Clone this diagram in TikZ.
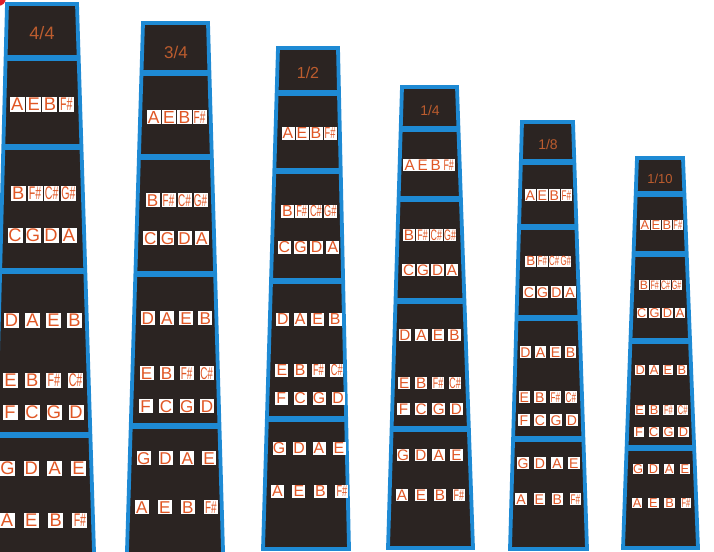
\documentclass[tikz,border=0pt]{standalone}
\usepackage{fontspec}
\setmainfont{Liberation Sans}
\usetikzlibrary{calc}
\definecolor{boardc}{RGB}{43,36,34}
\definecolor{bluec}{RGB}{30,138,212}
\definecolor{notec}{RGB}{224,86,36}
\definecolor{labelc}{RGB}{188,92,46}
\definecolor{redc}{RGB}{220,30,40}
\newcommand\shp[1]{\scalebox{0.58}[1]{#1\#}}
\tikzset{
  boardline/.style={draw=bluec, line width=3.8pt, line join=miter},
  divline/.style={draw=bluec, line width=5.5pt},
  notebox/.style={fill=white, inner sep=0pt, text=notec, anchor=center},
  lbl/.style={text=labelc, inner sep=0pt, anchor=center}
}
\newcommand\fboard[8]{%
  \coordinate (#1-TL) at (#2,#4);
  \coordinate (#1-TR) at (#3,#4);
  \coordinate (#1-BL) at (#5,#7);
  \coordinate (#1-BR) at (#6,#7);
  \fill[boardc] (#1-TL) -- (#1-TR) -- (#1-BR) -- (#1-BL) -- cycle;
  \foreach \dv in {#8} {
    \pgfmathsetmacro\dt{(\dv-#4)/(#7-#4)}
    \draw[divline] ($(#1-TL)!\dt!(#1-BL)$) -- ($(#1-TR)!\dt!(#1-BR)$);
  }
  \draw[boardline] (#1-TL) -- (#1-TR) -- (#1-BR) -- (#1-BL) -- cycle;
}
\newcommand\noterow[9]{%
  \pgfmathsetmacro\nfsz{#5*1.22}%
  \pgfmathsetmacro\nth{0.72*#5*1.22}%
  \foreach \nn [count=\i] in {#6,#7,#8,#9} {
    \node[notebox, minimum width=#5pt, minimum height=#5pt, text height=\nth pt, text depth=0pt,
          font=\fontsize{\nfsz pt}{\nfsz pt}\selectfont] (#1-\i) at ({#2+(\i-2.5)*#4},#3) {\nn};
  }
}
\begin{document}
\begin{tikzpicture}[x=1pt,y=-1pt]
\useasboundingbox (0,0) rectangle (714,551);
\clip (0,0) rectangle (714,551);
\fill[redc] (-2,-2) circle (8);

% Board 1 : 4/4
\fboard{b1}{7}{77}{4}{-8.3}{95.5}{600}{58,147,271,435}
\node[lbl, font=\fontsize{18pt}{18pt}\selectfont] (b1-lab) at (42,33) {4/4};
\noterow{b1r1}{41.8}{104}{16.3}{15}{A}{E}{B}{\shp{F}}
\noterow{b1r2}{43.4}{193}{16.7}{15}{B}{\shp{F}}{\shp{C}}{\shp{G}}
\noterow{b1r3}{42}{235}{18}{15}{C}{G}{D}{A}
\noterow{b1r4}{43}{320}{21}{15}{D}{A}{E}{B}
\noterow{b1r5}{43}{380}{21.7}{15}{E}{B}{\shp{F}}{\shp{C}}
\noterow{b1r6}{43}{412}{22}{15}{F}{C}{G}{D}
\noterow{b1r7}{43}{468}{23.7}{15}{G}{D}{A}{E}
\noterow{b1r8}{43.5}{520}{24.3}{15}{A}{E}{B}{\shp{F}}

% Board 2 : 3/4
\fboard{b2}{143}{208}{23}{125.5}{224.4}{600}{73,157,274,426}
\node[lbl, font=\fontsize{17pt}{17pt}\selectfont] (b2-lab) at (176,52) {3/4};
\noterow{b2r1}{176.7}{117}{15.3}{14.3}{A}{E}{B}{\shp{F}}
\noterow{b2r2}{176.5}{200}{16}{14}{B}{\shp{F}}{\shp{C}}{\shp{G}}
\noterow{b2r3}{176}{238}{17.2}{14}{C}{G}{D}{A}
\noterow{b2r4}{176.5}{318}{19.2}{14}{D}{A}{E}{B}
\noterow{b2r5}{176.6}{373}{20}{14}{E}{B}{\shp{F}}{\shp{C}}
\noterow{b2r6}{176.4}{406}{20.5}{14}{F}{C}{G}{D}
\noterow{b2r7}{176.4}{458}{21.7}{14}{G}{D}{A}{E}
\noterow{b2r8}{176.4}{507}{23}{14}{A}{E}{B}{\shp{F}}

% Board 3 : 1/2
\fboard{b3}{278}{338}{48}{263}{349}{549}{93,171,281,419}
\node[lbl, font=\fontsize{16pt}{16pt}\selectfont] (b3-lab) at (308,73) {1/2};
\noterow{b3r1}{309}{133}{14}{13}{A}{E}{B}{\shp{F}}
\noterow{b3r2}{308.8}{211}{14.3}{13}{B}{\shp{F}}{\shp{C}}{\shp{G}}
\noterow{b3r3}{308.6}{247}{16.2}{13}{C}{G}{D}{A}
\noterow{b3r4}{309}{319}{17.5}{13}{D}{A}{E}{B}
\noterow{b3r5}{309.3}{370}{18.3}{13}{E}{B}{\shp{F}}{\shp{C}}
\noterow{b3r6}{309.6}{398}{19}{13}{F}{C}{G}{D}
\noterow{b3r7}{309}{448}{20}{13}{G}{D}{A}{E}
\noterow{b3r8}{309.7}{491}{21.5}{13}{A}{E}{B}{\shp{F}}

% Board 4 : 1/4
\fboard{b4}{402}{457}{87}{388}{473}{548}{129,199,301,429}
\node[lbl, font=\fontsize{14pt}{14pt}\selectfont] (b4-lab) at (430,110) {1/4};
\noterow{b4r1}{429.2}{165}{13}{12.5}{A}{E}{B}{\shp{F}}
\noterow{b4r2}{429.5}{235}{13.7}{12.5}{B}{\shp{F}}{\shp{C}}{\shp{G}}
\noterow{b4r3}{430.3}{270}{14.5}{12.5}{C}{G}{D}{A}
\noterow{b4r4}{429.6}{335}{16.5}{12.5}{D}{A}{E}{B}
\noterow{b4r5}{429.6}{383}{17}{12.5}{E}{B}{\shp{F}}{\shp{C}}
\noterow{b4r6}{429.9}{409}{17.6}{12.5}{F}{C}{G}{D}
\noterow{b4r7}{429.8}{455}{17.8}{12.5}{G}{D}{A}{E}
\noterow{b4r8}{430.4}{495}{19}{12.5}{A}{E}{B}{\shp{F}}

% Board 5 : 1/8
\fboard{b5}{522}{573}{122}{510}{587}{549}{162,227,318,439}
\node[lbl, font=\fontsize{14pt}{14pt}\selectfont] (b5-lab) at (548,144) {1/8};
\noterow{b5r1}{548.3}{195}{12}{11.5}{A}{E}{B}{\shp{F}}
\noterow{b5r2}{548.3}{261}{11.7}{11}{B}{\shp{F}}{\shp{C}}{\shp{G}}
\noterow{b5r3}{549.5}{292}{13.7}{11.5}{C}{G}{D}{A}
\noterow{b5r4}{548}{352}{15}{11.5}{D}{A}{E}{B}
\noterow{b5r5}{547.6}{397}{15.5}{11.5}{E}{B}{\shp{F}}{\shp{C}}
\noterow{b5r6}{548}{420}{16}{11.5}{F}{C}{G}{D}
\noterow{b5r7}{548.5}{463}{16.9}{11.5}{G}{D}{A}{E}
\noterow{b5r8}{548.3}{499}{18.1}{11.5}{A}{E}{B}{\shp{F}}

% Board 6 : 1/10
\fboard{b6}{637}{683}{158}{623}{698}{548}{194,254,341,448}
\node[lbl, font=\fontsize{13pt}{13pt}\selectfont] (b6-lab) at (660,179) {1/10};
\noterow{b6r1}{661.3}{225}{11}{10.5}{A}{E}{B}{\shp{F}}
\noterow{b6r2}{660.2}{285}{10.9}{10}{B}{\shp{F}}{\shp{C}}{\shp{G}}
\noterow{b6r3}{661}{313}{12.8}{10.5}{C}{G}{D}{A}
\noterow{b6r4}{661}{370}{13.9}{10.5}{D}{A}{E}{B}
\noterow{b6r5}{661.2}{410}{14.3}{10.5}{E}{B}{\shp{F}}{\shp{C}}
\noterow{b6r6}{661.2}{432}{14.8}{10.5}{F}{C}{G}{D}
\noterow{b6r7}{661.4}{469}{15.6}{10.5}{G}{D}{A}{E}
\noterow{b6r8}{661.5}{503}{16.3}{10.5}{A}{E}{B}{\shp{F}}
\end{tikzpicture}
\end{document}
